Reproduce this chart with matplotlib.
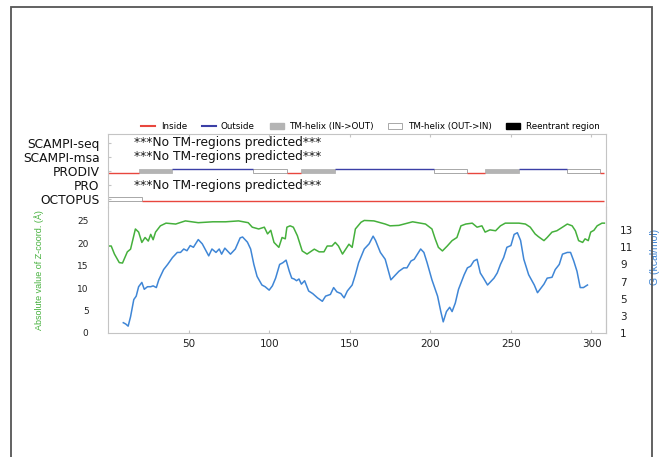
import matplotlib
matplotlib.use("Agg")
import matplotlib.pyplot as plt
from matplotlib.lines import Line2D
from matplotlib.patches import Patch, Rectangle

plt.rcParams['font.family'] = ['DejaVu Sans']

# data
methods = ['SCAMPI-seq', 'SCAMPI-msa', 'PRODIV', 'PRO', 'OCTOPUS']
no_pred = ['SCAMPI-seq', 'SCAMPI-msa', 'PRO']

# topology segments: i = inside, o = outside, M = TM-helix (IN->OUT), W = TM-helix (OUT->IN)
prodiv_start = [1, 20, 41, 91, 112, 121, 142, 203, 224, 235, 256, 286, 306]
prodiv_end = [19, 40, 90, 111, 120, 141, 202, 223, 234, 255, 285, 305, 308]
prodiv_type = ['i', 'M', 'o', 'W', 'i', 'M', 'o', 'W', 'i', 'M', 'o', 'W', 'i']

octopus_start = [1, 22]
octopus_end = [21, 308]
octopus_type = ['W', 'i']

z_res = [1, 2, 4, 7, 9, 12, 14, 17, 19, 21, 23, 25, 26.5, 28, 29.5, 32.5, 36, 42, 48, 56,
         65, 73, 81, 87, 89.5, 93.5, 97, 99, 101, 103, 106, 108, 110, 111, 113, 115, 117.5,
         120.5, 123.5, 128, 131, 134, 136, 139, 141, 143, 145.5, 147.5, 149.5, 151.5, 153.5,
         157, 159, 165, 172, 175, 180.5, 189, 197, 201, 203, 205, 207.5, 210.5, 213.5, 216.5,
         219, 222, 226, 229, 232, 234, 237, 240.5, 243.5, 246.5, 255, 259, 262, 265, 267,
         270.5, 272.5, 275.5, 278.5, 282, 285, 288, 290, 292, 294.5, 296, 298, 299.5, 301.5,
         303.5, 306.5, 308]
z_val = [19.4, 19.4, 17.6, 15.7, 15.6, 18.1, 18.7, 23.2, 22.5, 20.2, 21.3, 20.5, 22.0, 20.8,
         22.5, 23.9, 24.5, 24.3, 25.0, 24.6, 24.8, 24.8, 25.0, 24.6, 23.6, 23.2, 23.6, 22.1,
         22.9, 20.2, 19.1, 21.3, 21.0, 23.6, 23.9, 23.6, 21.7, 18.3, 17.6, 18.7, 18.1, 18.1,
         19.4, 19.4, 20.2, 19.4, 17.6, 18.7, 19.8, 19.1, 23.2, 24.7, 25.1, 25.0, 24.3, 23.9,
         24.0, 24.8, 24.3, 23.2, 21.0, 19.1, 18.3, 19.4, 20.6, 21.3, 23.9, 24.3, 24.5, 23.6,
         23.9, 22.5, 23.0, 22.8, 23.9, 24.5, 24.5, 24.3, 23.6, 22.1, 21.5, 20.6, 21.3, 22.5,
         22.8, 23.6, 24.3, 23.9, 22.8, 20.6, 20.2, 21.0, 20.6, 22.5, 22.9, 23.9, 24.5, 24.5]

g_res = [9.5, 11, 12.5, 14, 16, 17.5, 19, 21, 22.5, 24.5, 26.5, 28, 30, 31.5, 34.5, 37, 40,
         43, 45, 47, 49, 51, 53, 56, 58.5, 62.5, 64.5, 67, 69, 70.5, 72.5, 76, 79, 82, 83.5,
         86.5, 88.5, 90.5, 92.5, 95.5, 97.5, 100, 102, 104, 106.5, 108.5, 110.5, 112.5, 114,
         115.5, 117, 118.5, 120, 122, 124.5, 127, 130, 133, 135, 138, 140, 142, 144.5, 146.5,
         148.5, 151.5, 153.5, 155.5, 159, 162, 164.5, 166, 169, 172, 175.5, 177.5, 180.5,
         183.5, 185.5, 188, 190, 192, 194, 196, 198, 201, 204.5, 206.5, 208, 210, 212, 213.5,
         215.5, 217.5, 221, 223, 225, 227, 229, 231, 233, 235.5, 237.5, 239.5, 241.5, 243.5,
         245.5, 247.5, 250, 252, 254, 256, 258, 261, 264.5, 266.5, 268.5, 270.5, 272.5, 275.5,
         277.5, 280, 282, 285, 287, 289, 291, 293, 295, 297.5]
g_val = [2.2, 2.05, 1.8, 2.9, 4.9, 5.3, 6.4, 6.9, 6.1, 6.4, 6.4, 6.5, 6.3, 7.2, 8.4, 9.0, 9.8,
         10.4, 10.4, 10.8, 10.6, 11.2, 11.0, 11.9, 11.4, 10.0, 10.8, 10.4, 10.8, 10.2, 10.9,
         10.2, 10.8, 12.1, 12.2, 11.6, 10.8, 9.0, 7.6, 6.6, 6.4, 6.0, 6.5, 7.4, 9.0, 9.2, 9.5,
         8.2, 7.4, 7.3, 7.1, 7.3, 6.7, 7.1, 5.9, 5.6, 5.1, 4.7, 5.3, 5.5, 6.3, 5.8, 5.6, 5.1,
         5.9, 6.6, 7.8, 9.2, 10.8, 11.4, 12.3, 11.8, 10.4, 9.6, 7.2, 7.6, 8.2, 8.6, 8.6, 9.4,
         9.6, 10.2, 10.8, 10.4, 9.2, 7.2, 5.3, 3.5, 2.3, 3.5, 4.0, 3.5, 4.5, 6.1, 7.8, 8.6,
         8.8, 9.4, 9.6, 8.0, 7.4, 6.6, 7.0, 7.4, 8.0, 9.0, 9.8, 11.0, 11.2, 12.5, 12.7, 11.8,
         9.6, 7.8, 6.6, 5.7, 6.2, 6.7, 7.4, 7.5, 8.4, 9.0, 10.2, 10.4, 10.4, 9.4, 8.2, 6.3,
         6.3, 6.6]

x_ticks = [50, 100, 150, 200, 250, 300]
z_ticks = [0, 5, 10, 15, 20, 25]
g_ticks = [1, 3, 5, 7, 9, 11, 13]

c_in = '#e8473e'
c_out = '#3b3fa6'
c_helix = '#b4b4b4'
c_edge = '#9a9a9a'
c_green = '#45b03c'
c_blue = '#3f86d6'
c_spine = '#c4c4c4'
narrow = ['Liberation Sans Narrow', 'Liberation Sans', 'DejaVu Sans']

fig = plt.figure(figsize=(6.62, 4.57), dpi=100)
# outer frame
fig.patches.append(Rectangle((11 / 662, -0.05), 641 / 662, 1.05 - 7 / 457, transform=fig.transFigure,
                             fill=False, edgecolor='#555555', linewidth=1.3))

W, H = 662, 457
top = fig.add_axes([108 / W, 1 - 207 / H, 498 / W, 73 / H])
bot = fig.add_axes([108 / W, 1 - 333 / H, 498 / W, 126 / H])
top.patch.set_alpha(0)
bot.patch.set_alpha(0)

# topology panel
def draw_topology(ax, row, starts, ends, types):
    for s, e, t in zip(starts, ends, types):
        x0, x1 = s - 1, e
        if t == 'i':
            ax.plot([x0, x1], [row + 0.12, row + 0.12], color=c_in, lw=1.0, solid_capstyle='butt')
        elif t == 'o':
            ax.plot([x0, x1], [row - 0.16, row - 0.16], color=c_out, lw=1.0, solid_capstyle='butt')
        else:
            fc = c_helix if t == 'M' else 'white'
            ec = c_helix if t == 'M' else c_edge
            ax.add_patch(Rectangle((x0, row - 0.16), x1 - x0, 0.28, facecolor=fc,
                                   edgecolor=ec, linewidth=0.6))

draw_topology(top, methods.index('PRODIV'), prodiv_start, prodiv_end, prodiv_type)
draw_topology(top, methods.index('OCTOPUS'), octopus_start, octopus_end, octopus_type)
for m in no_pred:
    top.text(16, methods.index(m), '***No TM-regions predicted***', fontsize=8.8,
             va='center', ha='left', color='#111111')

top.set_xlim(0, 309)
top.set_ylim(4.57, -0.64)
top.set_yticks(range(len(methods)))
top.set_yticklabels(methods, fontsize=8.8, color='#111111')
top.set_xticks(x_ticks)
top.xaxis.tick_top()
top.tick_params(axis='x', direction='in', length=2, color=c_spine, labeltop=False)
top.tick_params(axis='y', direction='in', length=2, color=c_spine, pad=6)
top.spines['bottom'].set_visible(False)
for s in ['top', 'left', 'right']:
    top.spines[s].set_color(c_spine)

handles = [Line2D([], [], color=c_in, lw=1.5),
           Line2D([], [], color=c_out, lw=1.5),
           Patch(facecolor=c_helix, edgecolor=c_helix),
           Patch(facecolor='white', edgecolor=c_edge, linewidth=0.6),
           Patch(facecolor='black', edgecolor='black')]
labels = ['Inside', 'Outside', 'TM-helix (IN->OUT)', 'TM-helix (OUT->IN)', 'Reentrant region']
top.legend(handles, labels, loc='lower center', bbox_to_anchor=(0.527, 0.98), ncol=5,
           frameon=False, fontsize=6.3, handlelength=1.6, handleheight=0.6,
           columnspacing=1.7, handletextpad=0.6, borderaxespad=0.1)

# profile panel
bot.plot(z_res, z_val, color=c_green, lw=1.1)
bot.set_xlim(0, 309)
bot.set_ylim(0, 28.1)
bot.set_yticks(z_ticks)
bot.set_xticks(x_ticks)
bot.tick_params(axis='y', length=0, labelsize=6.5, pad=14, labelcolor='#222222')
bot.tick_params(axis='x', direction='in', length=2, color=c_spine, labelsize=7.5, pad=4,
                labelcolor='#222222')
bot.spines['top'].set_visible(False)
for s in ['bottom', 'left', 'right']:
    bot.spines[s].set_color(c_spine)
bot.set_ylabel('Absolute value of Z-coord. (Å)', color=c_green, fontsize=6.5, family=narrow)
bot.yaxis.set_label_coords(-64 / 498, 0.5)

ax2 = bot.twinx()
ax2.plot(g_res, g_val, color=c_blue, lw=1.1)
ax2.set_ylim(1, 15.7)
ax2.set_yticks(g_ticks)
ax2.tick_params(axis='y', length=0, labelsize=7.5, pad=10, labelcolor='#222222')
for s in ['top', 'left', 'bottom']:
    ax2.spines[s].set_visible(False)
ax2.spines['right'].set_color(c_spine)
ax2.set_ylabel('G (kcal/mol)', color=c_blue, fontsize=7.5, rotation=90, family=narrow)
ax2.yaxis.set_label_coords((650 - 108) / 498, 0.6)

fig.savefig('out.png', dpi=100)
